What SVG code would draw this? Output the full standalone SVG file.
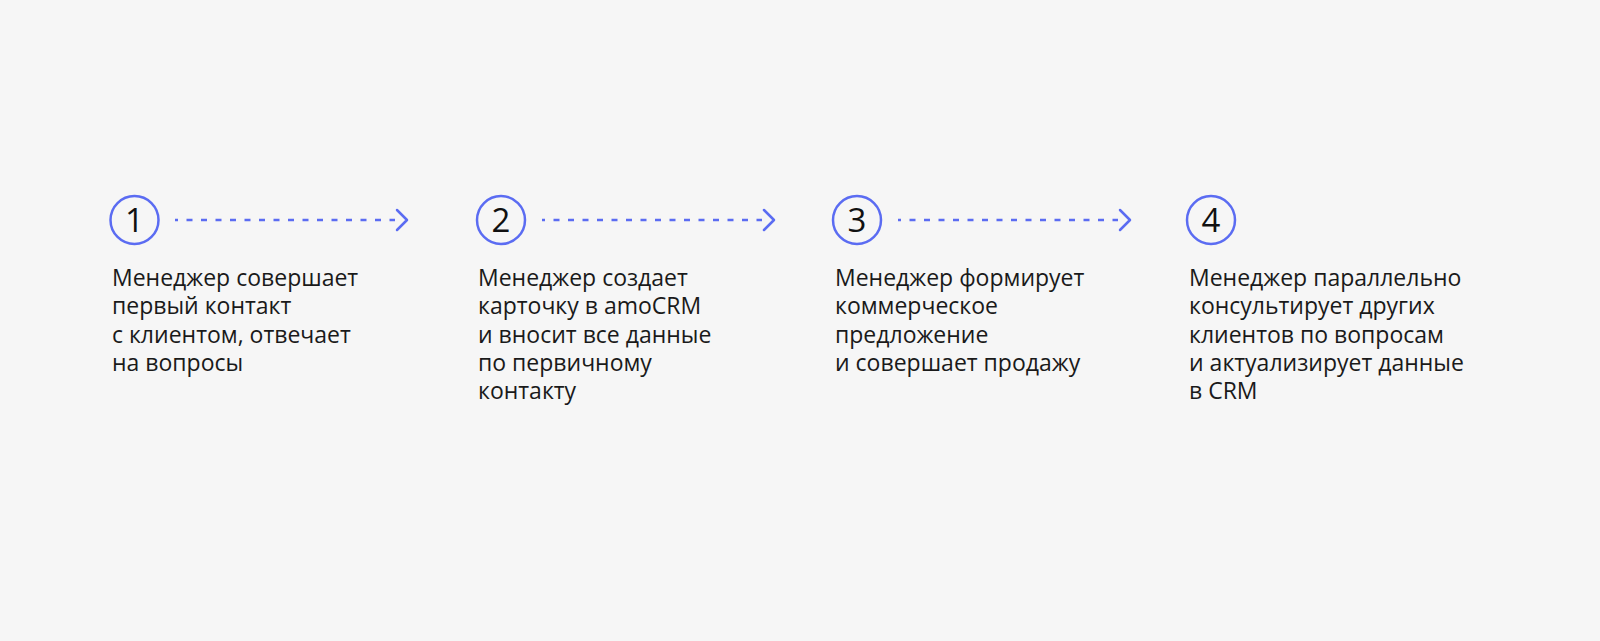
<svg xmlns="http://www.w3.org/2000/svg" width="1600" height="641" viewBox="0 0 1600 641">
<defs>
<style>
.bg{fill:#f6f6f6}
.c{fill:none;stroke:#5b6cf2;stroke-width:2.5}
.n{font-family:"Open Sans","Noto Sans",sans-serif;font-size:33px;fill:#111;text-anchor:middle}
.t{font-family:"Open Sans","Noto Sans",sans-serif;font-size:23px;fill:#1a1a1a}
.d{fill:none;stroke:#5b6cf2;stroke-width:2.5;stroke-dasharray:6 8.5;stroke-dashoffset:3}
.h{fill:none;stroke:#5b6cf2;stroke-width:2.5;stroke-linecap:round;stroke-linejoin:round}
</style>
</defs>
<rect class="bg" width="1600" height="641"/>
<g id="connectors">
<line class="d" x1="175" y1="220" x2="395" y2="220"/>
<polyline class="h" points="397,210 407,220 397,230"/>
<line class="d" x1="542" y1="220" x2="762" y2="220"/>
<polyline class="h" points="764,210 774,220 764,230"/>
<line class="d" x1="898" y1="220" x2="1118" y2="220"/>
<polyline class="h" points="1120,210 1130,220 1120,230"/>
</g>
<g id="step1">
<circle class="c" cx="134.5" cy="220" r="24"/>
<text class="n" x="134.5" y="232">1</text>
<text class="t" x="112" y="286"><tspan x="112">Менеджер совершает</tspan><tspan x="112" dy="28.3">первый контакт</tspan><tspan x="112" dy="28.3">с клиентом, отвечает</tspan><tspan x="112" dy="28.3">на вопросы</tspan></text>
</g>
<g id="step2">
<circle class="c" cx="501" cy="220" r="24"/>
<text class="n" x="501" y="232">2</text>
<text class="t" x="478" y="286"><tspan x="478">Менеджер создает</tspan><tspan x="478" dy="28.3">карточку в amoCRM</tspan><tspan x="478" dy="28.3">и вносит все данные</tspan><tspan x="478" dy="28.3">по первичному</tspan><tspan x="478" dy="28.3">контакту</tspan></text>
</g>
<g id="step3">
<circle class="c" cx="857" cy="220" r="24"/>
<text class="n" x="857" y="232">3</text>
<text class="t" x="835" y="286"><tspan x="835">Менеджер формирует</tspan><tspan x="835" dy="28.3">коммерческое</tspan><tspan x="835" dy="28.3">предложение</tspan><tspan x="835" dy="28.3">и совершает продажу</tspan></text>
</g>
<g id="step4">
<circle class="c" cx="1211" cy="220" r="24"/>
<text class="n" x="1211" y="232">4</text>
<text class="t" x="1189" y="286"><tspan x="1189">Менеджер параллельно</tspan><tspan x="1189" dy="28.3">консультирует других</tspan><tspan x="1189" dy="28.3">клиентов по вопросам</tspan><tspan x="1189" dy="28.3">и актуализирует данные</tspan><tspan x="1189" dy="28.3">в CRM</tspan></text>
</g>
</svg>
